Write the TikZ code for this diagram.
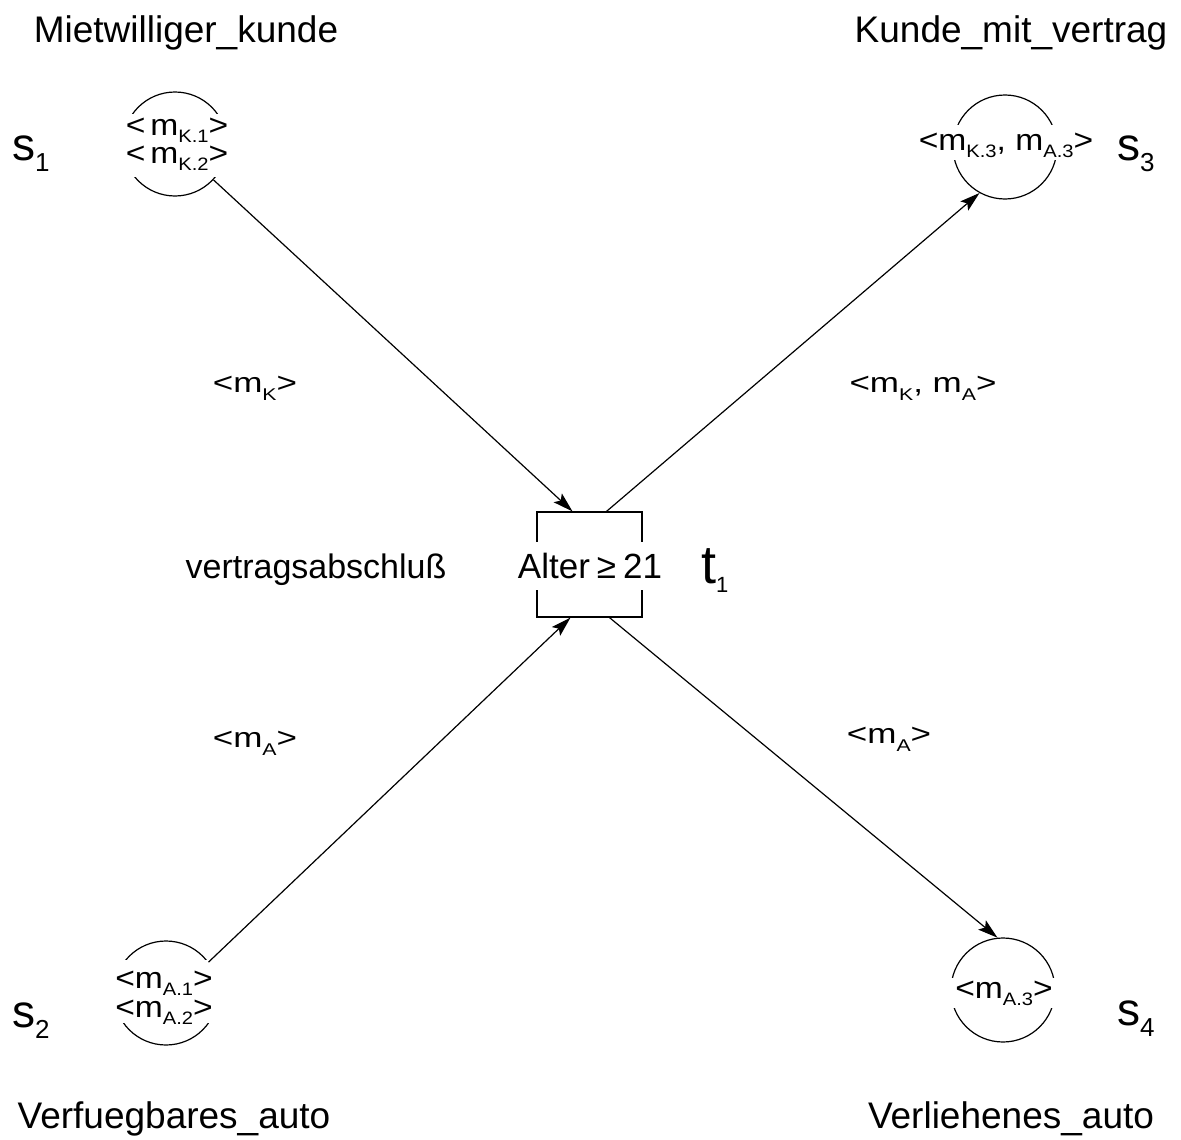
\documentclass[tikz,border=0pt]{standalone}
\usepackage{fontspec}
\setmainfont{Liberation Sans}
\newfontfamily\widefont[FakeStretch=1.25]{Liberation Sans}
\newfontfamily\markfont[FakeStretch=1.12]{Liberation Sans}
\usetikzlibrary{arrows.meta}
\newcommand{\fs}[1]{\fontsize{#1}{#1}\selectfont}
% lowered index: size, drop, text
\newcommand{\idx}[3]{\raisebox{-#2}{\fs{#1}#3}}
\begin{document}
\begin{tikzpicture}[x=1pt,y=-1pt,
  placebox/.style={circle,draw,line width=1.2pt,minimum size=104pt,inner sep=0pt},
  mask/.style={fill=white,inner sep=0pt},
  marking/.style={anchor=base,inner sep=0pt,font=\markfont\fs{30}},
  transbox/.style={draw,line width=1.2pt,minimum size=105pt,inner sep=0pt},
  lbl/.style={anchor=base,inner sep=0pt,font=\fs{37}},
  inscr/.style={anchor=base,inner sep=0pt,font=\widefont\fs{28}},
  ident/.style={anchor=base west,inner sep=0pt},
  flow/.style={line width=1.2pt,-{Stealth[length=20pt,width=12pt,inset=4pt]}},
]
\useasboundingbox (0,0) rectangle (1181,1140);

% places and transition
\node[placebox] (s1) at (175,144) {};
\node[placebox] (s3) at (1005,147) {};
\node[placebox] (s2) at (166,993) {};
\node[placebox] (s4) at (1003,990) {};
\node[transbox] (tr) at (589.5,564.5) {};

% white bands where the markings and the guard cut the outlines
\node[mask,minimum width=112pt,minimum height=63pt] (w1) at (176,145.5) {};
\node[mask,minimum width=112pt,minimum height=63pt] (w2) at (166,991.5) {};
\node[mask,minimum width=176pt,minimum height=35pt] (w3) at (1006,142.5) {};
\node[mask,minimum width=108pt,minimum height=30pt] (w4) at (1004,993) {};
\node[mask,minimum width=150pt,minimum height=48pt] (w5) at (590,566) {};

% markings
\node[marking] (m1a) at (177,135) {<\,m\idx{18}{7pt}{K.1}>};
\node[marking] (m1b) at (177,163) {<\,m\idx{18}{7pt}{K.2}>};
\node[marking] (m2a) at (164,988) {<m\idx{18}{7pt}{A.1}>};
\node[marking] (m2b) at (164,1017) {<m\idx{18}{7pt}{A.2}>};
\node[marking] (m3) at (1006,150) {<m\idx{18}{7pt}{K.3}, m\idx{18}{7pt}{A.3}>};
\node[marking] (m4) at (1004,998) {<m\idx{18}{7pt}{A.3}>};

% guard
\node[anchor=base,inner sep=0pt,font=\fs{35}] (g) at (590,578)
  {Alter\hspace{0.2em}≥\hspace{0.2em}21};

% arcs
\draw[flow] (s1.-43) -- ([xshift=-17pt]tr.north);
\draw[flow] ([xshift=17pt]tr.north) -- (s3.241);
\draw[flow] (s2.36) -- ([xshift=-19pt]tr.south);
\draw[flow] ([xshift=20pt]tr.south) -- (s4.96);

% place and transition names
\node[lbl] (n1) at (186,43) {Mietwilliger\_kunde};
\node[lbl] (n3) at (1011,43) {Kunde\_mit\_vertrag};
\node[lbl] (n2) at (174,1128) {Verfuegbares\_auto};
\node[lbl] (n4) at (1011,1128) {Verliehenes\_auto};
\node[lbl,font=\fs{34}] (tn) at (316,578) {vertragsabschluß};

% identifiers
\node[ident] (l1) at (12,160) {\fs{46}s\idx{26}{11pt}{1}};
\node[ident] (l3) at (1117,160) {\fs{46}s\idx{26}{11pt}{3}};
\node[ident] (l2) at (12,1027) {\fs{46}s\idx{26}{11pt}{2}};
\node[ident] (l4) at (1117,1025) {\fs{46}s\idx{26}{11pt}{4}};
\node[ident] (lt) at (701,583) {\fs{54}t\idx{22}{9pt}{1}};

% arc inscriptions
\node[inscr] (e1) at (255,392) {<m\idx{17}{8pt}{K}>};
\node[inscr] (e3) at (923,392) {<m\idx{17}{8pt}{K}, m\idx{17}{8pt}{A}>};
\node[inscr] (e2) at (255,747) {<m\idx{17}{8pt}{A}>};
\node[inscr] (e4) at (889,743) {<m\idx{17}{8pt}{A}>};
\end{tikzpicture}
\end{document}
